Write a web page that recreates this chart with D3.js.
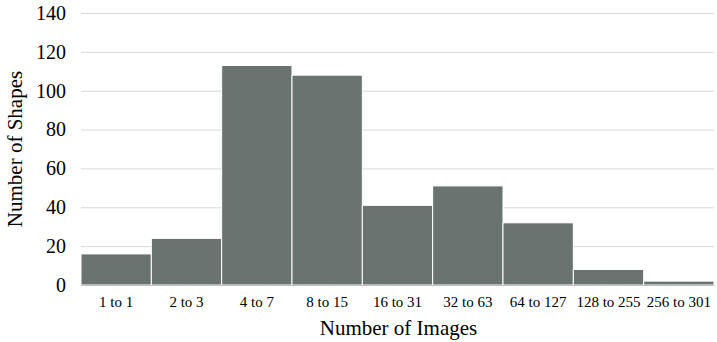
<!DOCTYPE html>
<html lang="en">
<head>
<meta charset="UTF-8">
<title>Shapes per image count</title>
<script src="https://d3js.org/d3.v7.min.js"></script>
<style>
  body { margin: 0; background: #fff; }
  text { font-family: "Liberation Serif", "Times New Roman", serif; fill: #000; }
  .grid-line { stroke: #d9d9d9; stroke-width: 1px; }
</style>
</head>
<body>
<div id="chart"></div>
<script>
  const categories = ["1 to 1", "2 to 3", "4 to 7", "8 to 15", "16 to 31", "32 to 63", "64 to 127", "128 to 255", "256 to 301"];
  const counts = [16, 24, 113, 108, 41, 51, 32, 8, 2];
  const yTicks = [0, 20, 40, 60, 80, 100, 120, 140];

  const W = 717, H = 342;
  const margin = { top: 13, right: 3, bottom: 57, left: 81 };
  const width = W - margin.left - margin.right,
        height = H - margin.top - margin.bottom;

  const svg = d3.select("#chart").append("svg")
      .attr("width", W).attr("height", H);
  const g = svg.append("g")
      .attr("transform", `translate(${margin.left},${margin.top})`);

  const x = d3.scaleBand().domain(categories).range([0, width]).padding(0);
  const y = d3.scaleLinear().domain([0, 140]).range([height, 0]);

  // grid
  g.selectAll(".grid-line")
    .data(yTicks)
    .enter().append("line")
      .attr("class", "grid-line")
      .attr("x1", 0).attr("x2", width)
      .attr("y1", d => y(d) + 0.5).attr("y2", d => y(d) + 0.5);

  // bars
  g.selectAll(".bar")
    .data(counts)
    .enter().append("rect")
      .attr("class", "bar")
      .attr("x", (d, i) => x(categories[i]))
      .attr("width", x.bandwidth())
      .attr("y", d => y(d))
      .attr("height", d => height - y(d))
      .style("fill", "#6b7370")
      .style("stroke", "#fff")
      .style("stroke-width", 1);

  // y axis
  const yAxis = g.append("g")
      .call(d3.axisLeft(y).tickValues(yTicks).tickSize(0).tickPadding(15));
  yAxis.select(".domain").remove();
  yAxis.selectAll("text")
      .style("font-size", "20px")
      .style("font-family", "'Liberation Serif', serif");

  // x axis
  const xAxis = g.append("g")
      .attr("transform", `translate(0,${height})`)
      .call(d3.axisBottom(x).tickSize(0).tickPadding(11));
  xAxis.select(".domain").attr("stroke", "#bfbfbf");
  xAxis.selectAll("text")
      .style("font-size", "15px")
      .style("font-family", "'Liberation Serif', serif");

  // titles
  svg.append("text")
      .attr("x", margin.left + width / 2 + 1)
      .attr("y", 335)
      .attr("text-anchor", "middle")
      .style("font-size", "21px")
      .text("Number of Images");

  svg.append("text")
      .attr("transform", `translate(22,${margin.top + height / 2}) rotate(-90)`)
      .attr("text-anchor", "middle")
      .style("font-size", "21px")
      .text("Number of Shapes");
</script>
</body>
</html>
